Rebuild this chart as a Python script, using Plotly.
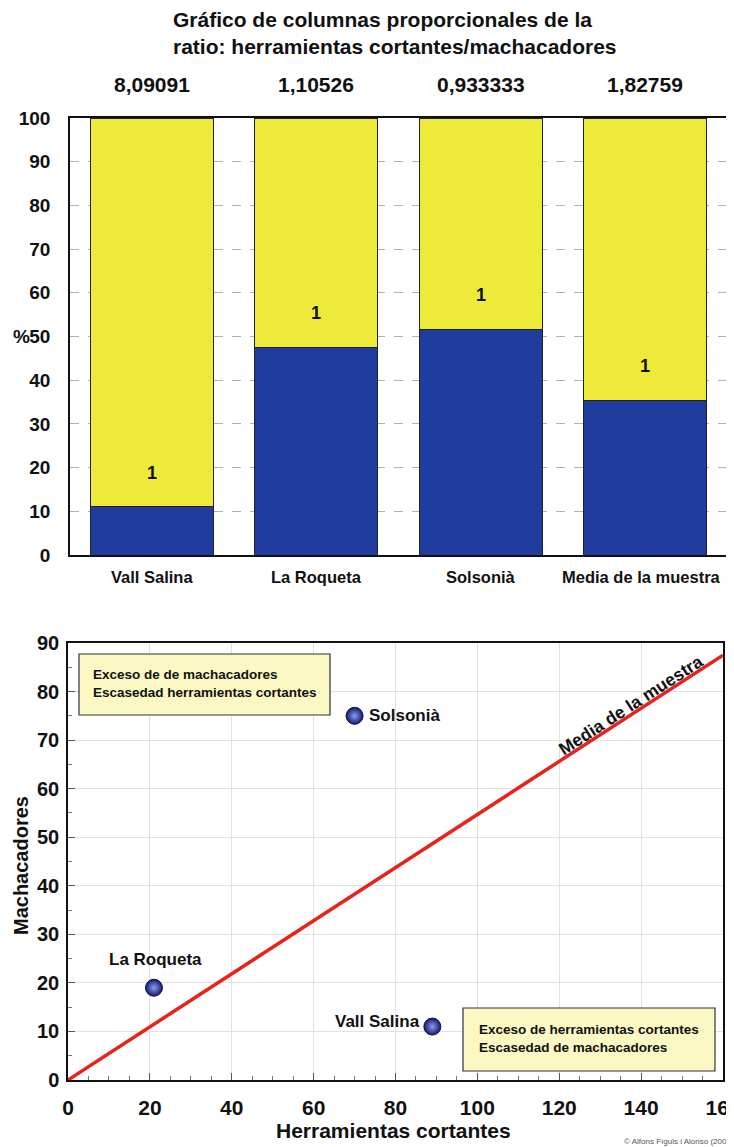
import plotly.graph_objects as go

# ---- data: proportional columns ----
sites = ["Vall Salina", "La Roqueta", "Solsonià", "Media de la muestra"]
ratio_labels = ["8,09091", "1,10526", "0,933333", "1,82759"]
pct_machacadores = [11.0, 47.5, 51.7, 35.4]
pct_cortantes = [89.0, 52.5, 48.3, 64.6]
unit_labels = ["1", "1", "1", "1"]

# ---- data: scatter ----
pts_names = ["Vall Salina", "La Roqueta", "Solsonià"]
pts_cortantes = [89, 21, 70]
pts_machacadores = [11, 19, 75]
media_x = [0, 160]
media_y = [0, 87.5]

OFF = 8  # page body margin
W, H = 734 - OFF, 1147 - OFF
FONT = "Liberation Sans, Arial, sans-serif"
BLUE = "#1f3c9e"
YELLOW = "#eeea3a"
INK = "#111111"


def px_x(p):
    return (p - OFF) / W


def px_y(p):
    return 1 - (p - OFF) / H


fig = go.Figure()

fig.add_trace(go.Bar(
    x=sites, y=pct_machacadores, marker=dict(color=BLUE, line=dict(color="#222", width=1)),
    xaxis="x", yaxis="y", showlegend=False, hoverinfo="skip"))
fig.add_trace(go.Bar(
    x=sites, y=pct_cortantes, marker=dict(color=YELLOW, line=dict(color="#222", width=1)),
    xaxis="x", yaxis="y", showlegend=False, hoverinfo="skip"))

# scatter
fig.add_trace(go.Scatter(
    x=media_x, y=media_y, mode="lines", line=dict(color="#e8231c", width=3.5),
    xaxis="x2", yaxis="y2", showlegend=False, hoverinfo="skip"))
fig.add_trace(go.Scatter(
    x=pts_cortantes, y=pts_machacadores, mode="markers",
    marker=dict(size=17, color="#111a6e", line=dict(color="#0a1045", width=1),
                gradient=dict(type="radial", color="#8f9ce8")),
    xaxis="x2", yaxis="y2", showlegend=False, hoverinfo="skip"))

layout = dict(
    width=W, height=H, margin=dict(l=0, r=0, t=0, b=0, autoexpand=False),
    paper_bgcolor="white", plot_bgcolor="white",
    barmode="stack", bargap=0.25,
    font=dict(family=FONT, color=INK),
    xaxis=dict(domain=[px_x(70), px_x(727)], anchor="y", range=[-0.5, 3.5], automargin=False,
               showticklabels=False, ticks="", showgrid=False,
               showline=True, linecolor=INK, linewidth=1.5, mirror=True, zeroline=False),
    yaxis=dict(domain=[px_y(555), px_y(118)], anchor="x", range=[0, 100], dtick=10, automargin=False,
               tickfont=dict(family=FONT, size=19, color=INK, weight="bold"),
               showgrid=True, gridcolor="#b9b0a8", griddash="dash", gridwidth=1,
               ticks="", showline=True, linecolor=INK, linewidth=1.5, mirror=True,
               zeroline=False, ticklabelstandoff=14, ticklabeloverflow="allow"),
    xaxis2=dict(domain=[px_x(68), px_x(723)], anchor="y2", range=[0, 160], dtick=20, automargin=False,
                tickfont=dict(family=FONT, size=21, color=INK, weight="bold"),
                showgrid=True, gridcolor="#e2e2e2", gridwidth=1,
                ticks="inside", ticklen=7, tickcolor="#555",
                minor=dict(dtick=5, ticks="inside", ticklen=4, tickcolor="#777", showgrid=False),
                showline=True, linecolor=INK, linewidth=1.5, mirror=True, zeroline=False,
                ticklabelstandoff=8, ticklabeloverflow="allow"),
    yaxis2=dict(domain=[px_y(1080), px_y(643)], anchor="x2", range=[0, 90], dtick=10, automargin=False,
                tickfont=dict(family=FONT, size=20, color=INK, weight="bold"),
                showgrid=True, gridcolor="#e2e2e2", gridwidth=1,
                ticks="inside", ticklen=7, tickcolor="#555",
                minor=dict(dtick=5, ticks="inside", ticklen=4, tickcolor="#777", showgrid=False),
                showline=True, linecolor=INK, linewidth=1.5, mirror=True, zeroline=False,
                ticklabelstandoff=3, ticklabeloverflow="allow"),
)
fig.update_layout(**layout)

ann = []
# title
ann.append(dict(text="<b>Gráfico de columnas proporcionales de la<br>ratio: herramientas cortantes/machacadores</b>",
                xref="paper", yref="paper", x=px_x(171), y=px_y(33), xanchor="left", yanchor="middle",
                align="left", showarrow=False, font=dict(family=FONT, size=21, color=INK)))
# ratio labels above columns
for s, r in zip(sites, ratio_labels):
    ann.append(dict(text=f"<b>{r}</b>", xref="x", yref="paper", x=s, y=px_y(84),
                    xanchor="center", yanchor="middle",
                    showarrow=False, font=dict(family=FONT, size=21, color=INK)))
# category labels below
for i, s in enumerate(sites):
    ann.append(dict(text=f"<b>{s}</b>", xref="x", yref="paper", x=s, y=px_y(577),
                    xanchor="center", yanchor="middle", xshift=(-3 if i == len(sites) - 1 else 0),
                    showarrow=False, font=dict(family=FONT, size=16.5, color=INK)))
# "1" labels on the yellow part
for s, b, u in zip(sites, pct_machacadores, unit_labels):
    ann.append(dict(text=f"<b>{u}</b>", xref="x", yref="y", x=s, y=b, xanchor="center", yanchor="middle",
                    yshift=34, showarrow=False, font=dict(family=FONT, size=18, color=INK)))
# % sign
ann.append(dict(text="<b>%</b>", xref="paper", yref="y", x=px_x(11), y=50, xanchor="left", yanchor="middle",
                showarrow=False, font=dict(family=FONT, size=19, color=INK)))

# scatter labels
ann.append(dict(text="<b>Solsonià</b>", xref="x2", yref="y2", x=pts_cortantes[2], y=pts_machacadores[2],
                xanchor="left", yanchor="middle", xshift=12, showarrow=False,
                font=dict(family=FONT, size=17, color=INK)))
ann.append(dict(text="<b>La Roqueta</b>", xref="x2", yref="y2", x=pts_cortantes[1], y=pts_machacadores[1],
                xanchor="center", yanchor="middle", xshift=2, yshift=28, showarrow=False,
                font=dict(family=FONT, size=17, color=INK)))
ann.append(dict(text="<b>Vall Salina</b>", xref="x2", yref="y2", x=pts_cortantes[0], y=pts_machacadores[0],
                xanchor="right", yanchor="middle", xshift=-10, yshift=5, showarrow=False,
                font=dict(family=FONT, size=17, color=INK)))
ann.append(dict(text="<b>Media de la muestra</b>", xref="x2", yref="y2", x=138.5, y=75.8,
                xanchor="center", yanchor="middle", xshift=-4, yshift=7, textangle=-33, showarrow=False,
                font=dict(family=FONT, size=17.5, color=INK)))
# text boxes
ann.append(dict(text="<b>Exceso de de machacadores<br>Escasedad herramientas cortantes</b>",
                xref="paper", yref="paper", x=px_x(91), y=px_y(683), xanchor="left", yanchor="middle",
                align="left", showarrow=False, font=dict(family=FONT, size=13.5, color=INK)))
ann.append(dict(text="<b>Exceso de herramientas cortantes<br>Escasedad de machacadores</b>",
                xref="paper", yref="paper", x=px_x(477), y=px_y(1038), xanchor="left", yanchor="middle",
                align="left", showarrow=False, font=dict(family=FONT, size=13.5, color=INK)))
# axis titles
ann.append(dict(text="<b>Machacadores</b>", xref="paper", yref="paper", x=px_x(21), y=px_y(866),
                xanchor="center", yanchor="middle",
                textangle=-90, showarrow=False, font=dict(family=FONT, size=20, color=INK)))
ann.append(dict(text="<b>Herramientas cortantes</b>", xref="paper", yref="paper", x=px_x(393), y=px_y(1130),
                xanchor="center", yanchor="middle",
                showarrow=False, font=dict(family=FONT, size=21, color=INK)))
ann.append(dict(text="© Alfons Fíguls i Alonso (2008)", xref="paper", yref="paper", x=px_x(622), y=px_y(1141),
                xanchor="left", yanchor="middle", showarrow=False, font=dict(family=FONT, size=8, color="#555")))
fig.update_layout(annotations=ann)

shapes = [
    dict(type="rect", xref="paper", yref="paper", x0=px_x(79), x1=px_x(330), y0=px_y(715), y1=px_y(654),
         fillcolor="#fbf8c4", line=dict(color="#333", width=1.2), layer="above"),
    dict(type="rect", xref="paper", yref="paper", x0=px_x(463), x1=px_x(715), y0=px_y(1071), y1=px_y(1008),
         fillcolor="#fbf8c4", line=dict(color="#333", width=1.2), layer="above"),
]
fig.update_layout(shapes=shapes)

fig.write_html("out.html")
